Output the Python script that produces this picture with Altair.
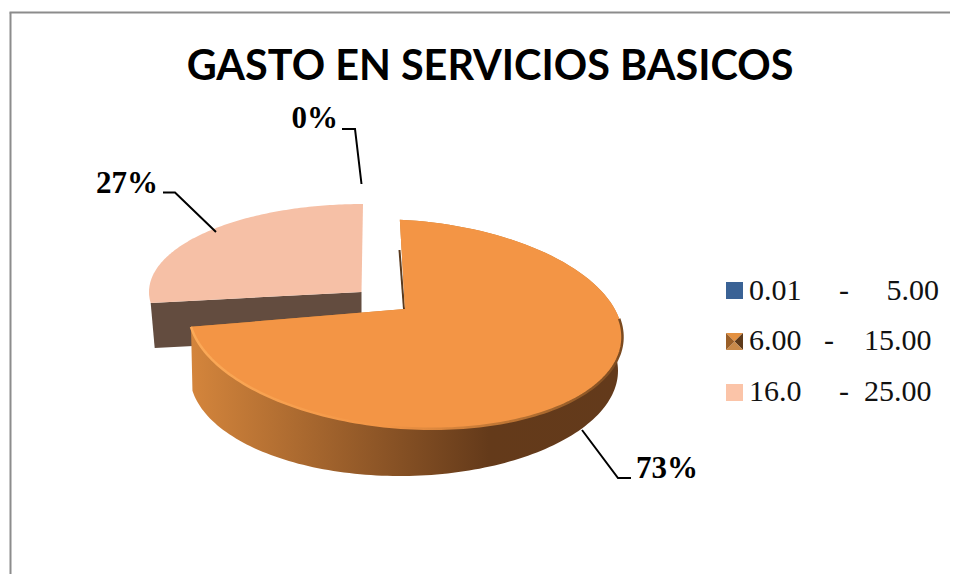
import math
import altair as alt

TITLE = "GASTO EN SERVICIOS BASICOS"
NB = "\u00a0"
CATEGORIES = [
    f"0.01{NB*5}-{NB*5}5.00",
    f"6.00{NB*3}-{NB*4}15.00",
    f"16.0{NB*5}-{NB*2}25.00",
]
SHARES = [0, 73, 27]
LABELS = ["0%", "73%", "27%"]
COLORS = ["#3A6295", "#C67F35", "#F6C0A6"]

OX, OY = 8, 8  # page margin: geometry below is expressed in page pixels


def P(x, y):
    return [x - OX, y - OY]


def arc(cx, cy, rx, ry, a0, a1, tilt=0.0, n=120):
    pts = []
    for i in range(n + 1):
        t = math.radians(a0 + (a1 - a0) * i / n)
        dx = rx * math.sin(t)
        pts.append(P(cx + dx, cy - ry * math.cos(t) + tilt * dx))
    return pts


def poly(pts, cat=None):
    return {"type": "Feature", "properties": {"cat": cat},
            "geometry": {"type": "Polygon", "coordinates": [pts + [pts[0]]]}}


def line(pts):
    return {"type": "Feature", "properties": {},
            "geometry": {"type": "LineString", "coordinates": pts}}


# slice angles, clockwise from the top of the pie
a_low = -1.5
a_mid = a_low + SHARES[1] / sum(SHARES) * 360
a_end = a_mid + SHARES[2] / sum(SHARES) * 360 + 1.5

# main slice
APX_M = (405, 309)
TOP_M = (405.5, 324, 217, 104)
TILT_M = 0.06
LOW_M = (404, 373, 214, 103)
TILT_L = -0.01
# detached slice
APX_P = (361.5, 292)
TOP_P = (363, 292, 214, 88)

top_m = [P(*APX_M)] + arc(*TOP_M, a_low, a_mid, TILT_M)
top_p = [P(*APX_P)] + arc(*TOP_P, a_mid + 1.5, a_end)
wall_m = arc(*TOP_M, 84, a_mid, TILT_M) + arc(*LOW_M, a_mid, 84, TILT_L)
rim_m = arc(*TOP_M, 80, a_mid, TILT_M)

pl = top_p[1]
wall_p = [P(*APX_P), pl, [pl[0] + 4, pl[1] + 45], [APX_P[0] - OX, APX_P[1] - OY + 45]]
inner_m = [line([P(399.5, 250), P(404, 309)])]

faces = [poly(top_m, CATEGORIES[1]), poly(top_p, CATEGORIES[2]),
         poly([P(*APX_M)], CATEGORIES[0])]

legend_x, legend_y = 711, 267.5
SWATCH_X = 734.5
SWATCH_Y = [290.5, 341.5, 392.5]
SWATCH_R = 8.5
SWATCH_FILL = ["#3A6295", None, "#FBC4A8"]
PYRAMID = [
    ([[-1, -1], [1, -1], [0, 0]], "#E39040"),
    ([[1, -1], [1, 1], [0, 0]], "#5E3A1A"),
    ([[1, 1], [-1, 1], [0, 0]], "#C98A4A"),
    ([[-1, 1], [-1, -1], [0, 0]], "#9A5F28"),
]

proj = dict(type="identity", scale=1, translate=[0, 0])


def shape(features, **mark):
    mark.setdefault("strokeOpacity", 0)
    return (alt.Chart(alt.Data(values=features))
            .mark_geoshape(**mark).project(**proj))


def grad(stops):
    return alt.LinearGradient(
        gradient="linear", x1=0, x2=1, y1=0, y2=0,
        stops=[alt.GradientStop(offset=o, color=c) for o, c in stops])


frame = [
    alt.Chart(alt.Data(values=[{"a": 0}])).mark_rule(color="#8C8C8C", strokeWidth=2).encode(
        x=alt.value(2.5), y=alt.value(4.5), y2=alt.value(566)),
    alt.Chart(alt.Data(values=[{"a": 0}])).mark_rule(color="#8C8C8C", strokeWidth=2).encode(
        x=alt.value(1.5), x2=alt.value(942), y=alt.value(4.5)),
]

wall_layer_p = shape([poly(wall_p)], fill="#634C3F")
inner_layer = shape(inner_m, filled=False, strokeOpacity=1, stroke="#5A3A1E", strokeWidth=2)
wall_layer_m = shape([poly(wall_m)], fill=grad(
    [(0, "#D4853C"), (0.69, "#643A1A"), (1, "#633A1B")]))

face_layer = shape(faces).encode(
    color=alt.Color(
        "properties.cat:N",
        scale=alt.Scale(domain=CATEGORIES, range=COLORS),
        legend=alt.Legend(
            title=None, orient="none", legendX=legend_x, legendY=legend_y,
            symbolType="square", symbolSize=150, symbolStrokeWidth=0,
            symbolOpacity=0, labelFont="Liberation Serif", labelFontSize=30,
            labelColor="#111111", labelLimit=300, rowPadding=20.5, padding=0,
            labelOffset=0),
    )
)
top_m_layer = shape([poly(top_m)], fill="#F39545")
rim_layer = shape([line(rim_m)], filled=False, strokeOpacity=1, strokeWidth=2.5,
                  stroke=grad([(0, "#FBAA58"), (0.45, "#F39545"), (0.8, "#B06D30"),
                               (1, "#7A4A20")]))

sw_layers = []
for yc, fill in zip(SWATCH_Y, SWATCH_FILL):
    r = SWATCH_R
    if fill:
        sw_layers.append(shape([poly([P(SWATCH_X + r * a, yc + r * b)
                                      for a, b in [(-1, -1), (1, -1), (1, 1), (-1, 1)]])], fill=fill))
    else:
        for tri, c in PYRAMID:
            sw_layers.append(shape([poly([P(SWATCH_X + r * a, yc + r * b) for a, b in tri])], fill=c))

leaders = [
    [P(342, 129), P(355, 129), P(361.5, 184)],
    [P(163, 192.5), P(175, 192.5), P(216, 232)],
    [P(582, 430), P(618, 478), P(631, 478)],
]
leader_layer = shape([line(l) for l in leaders], filled=False, strokeOpacity=1,
                     stroke="#000000", strokeWidth=2)

label_rows = [
    {"t": LABELS[0], "x": 338 - OX, "y": 128 - OY},
    {"t": LABELS[2], "x": 158 - OX, "y": 193 - OY},
]
label_rows2 = [{"t": LABELS[1], "x": 636 - OX, "y": 478 - OY}]


def text_layer(rows, align):
    return (alt.Chart(alt.Data(values=rows))
            .mark_text(font="Liberation Serif", fontWeight="bold", fontSize=31,
                       color="#000000", align=align, baseline="alphabetic")
            .encode(longitude="x:Q", latitude="y:Q", text="t:N")
            .project(**proj))


chart = alt.layer(
    *frame,
    wall_layer_p,
    inner_layer,
    wall_layer_m,
    face_layer,
    top_m_layer,
    rim_layer,
    *sw_layers,
    leader_layer,
    text_layer(label_rows, "right"),
    text_layer(label_rows2, "left"),
).properties(
    width=942, height=566,
    autosize=alt.AutoSizeParams(type="none"),
    padding=0,
    title=alt.TitleParams(
        TITLE, font="Lato", fontWeight="bold", fontSize=41.4, color="#000000",
        anchor="middle", baseline="alphabetic", offset=0, dy=113, dx=11),
).configure_view(stroke=None)

chart.save("out.html", embed_options={"renderer": "svg", "actions": False})
